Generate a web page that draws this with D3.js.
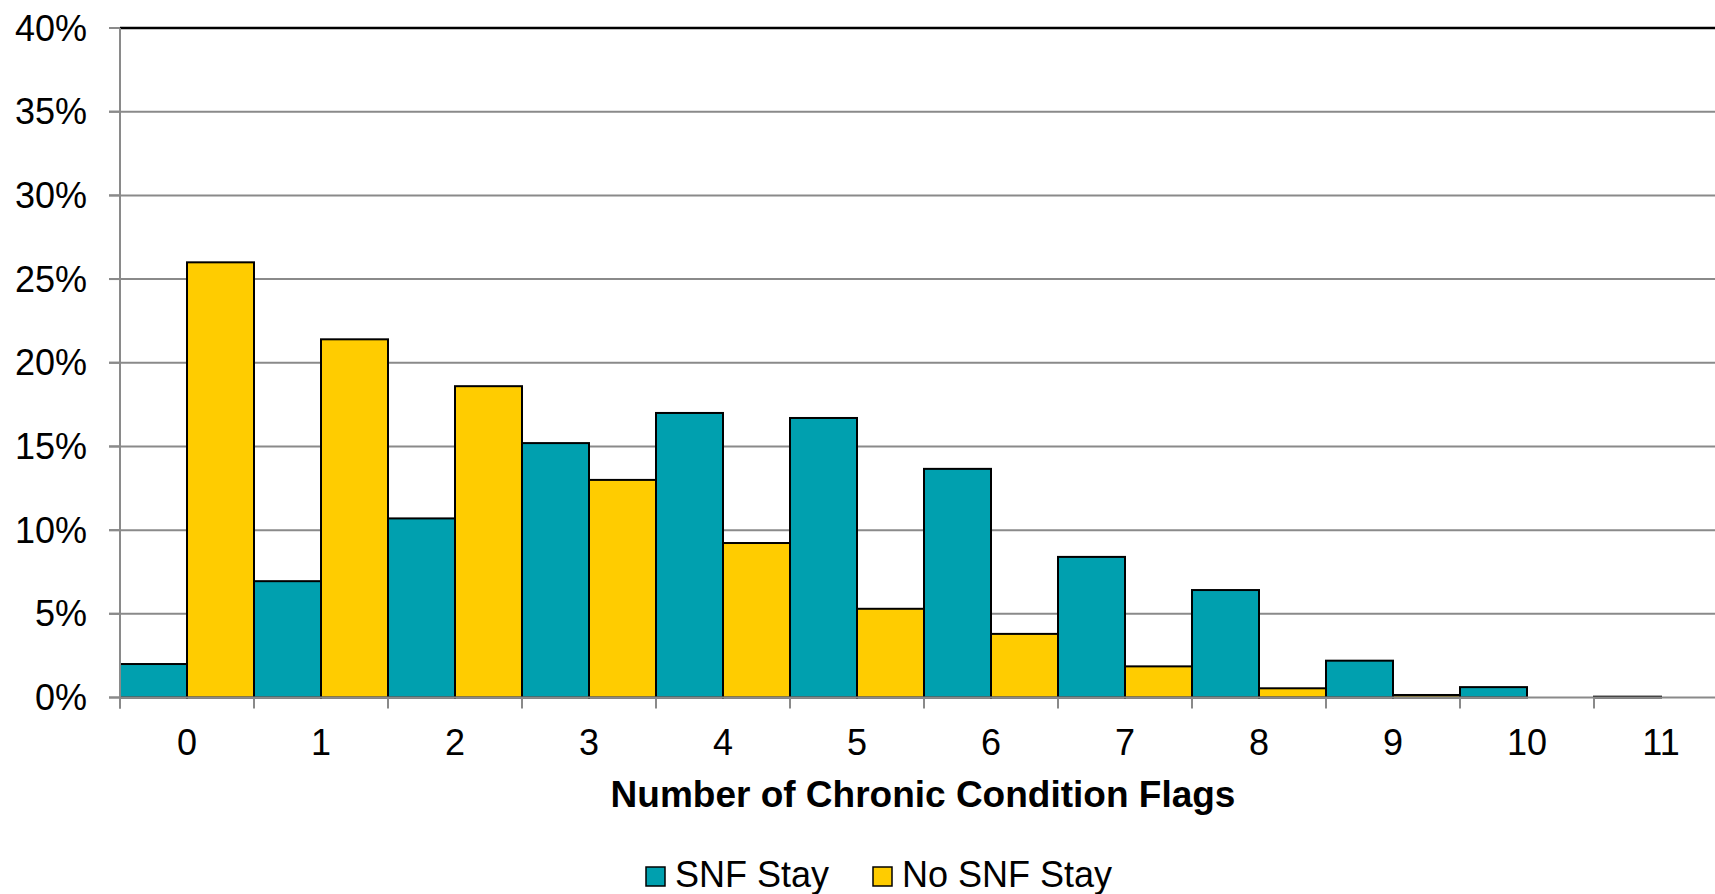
<!DOCTYPE html>
<html>
<head>
<meta charset="utf-8">
<script src="https://cdn.jsdelivr.net/npm/d3@7/dist/d3.min.js"></script>
<style>
  html, body { margin: 0; padding: 0; background: #fff; }
  svg { display: block; font-family: "Liberation Sans", Arial, sans-serif; }
</style>
</head>
<body>
<div id="chart"></div>
<script>
// chart data
const categories = ["0", "1", "2", "3", "4", "5", "6", "7", "8", "9", "10", "11"];
const seriesNames = ["SNF Stay", "No SNF Stay"];
const snfStay = [2.0, 6.95, 10.7, 15.2, 17.0, 16.7, 13.66, 8.4, 6.42, 2.2, 0.62, 0.05];
const noSnfStay = [26.0, 21.4, 18.6, 13.0, 9.23, 5.3, 3.8, 1.86, 0.55, 0.15, 0.0, 0.0];
const yTicks = [0, 5, 10, 15, 20, 25, 30, 35, 40];

const WIDTH = 1715;
const HEIGHT = 894;
const COLORS = ["#00A0AF", "#FFCC00"];

const svg = d3.select('#chart')
    .append('svg')
    .attr('width', WIDTH)
    .attr('height', HEIGHT)
    .style('overflow', 'hidden');

// plot area runs past the right edge, as in the original
const x = d3.scaleBand()
    .domain(categories)
    .range([120, 1728])
    .padding(0);

const xInner = d3.scaleBand()
    .domain(seriesNames)
    .range([0, x.bandwidth()])
    .padding(0);

const y = d3.scaleLinear()
    .domain([0, 40])
    .range([697.5, 28]);

// gridlines
svg.append('g')
    .selectAll('line')
    .data(yTicks.filter(d => d > 0 && d < 40))
    .join('line')
    .attr('x1', 109)
    .attr('x2', WIDTH)
    .attr('y1', d => y(d))
    .attr('y2', d => y(d))
    .attr('stroke', '#8a8a8a')
    .attr('stroke-width', 2);

// bars
const rows = categories.map((c, i) => ({ cat: c, values: [snfStay[i], noSnfStay[i]] }));

svg.append('g')
    .selectAll('g')
    .data(rows)
    .join('g')
    .attr('transform', d => `translate(${x(d.cat)},0)`)
    .selectAll('rect')
    .data(d => d.values.map((v, j) => ({ name: seriesNames[j], value: v, idx: j })))
    .join('rect')
    .filter(d => d.value > 0)
    .attr('x', d => xInner(d.name))
    .attr('width', xInner.bandwidth())
    .attr('y', d => y(d.value))
    .attr('height', d => y(0) - y(d.value))
    .attr('fill', d => COLORS[d.idx])
    .attr('stroke', '#000')
    .attr('stroke-width', 2);

// top border line (40%)
svg.append('line')
    .attr('x1', 109).attr('x2', 120)
    .attr('y1', y(40)).attr('y2', y(40))
    .attr('stroke', '#8a8a8a').attr('stroke-width', 2);
svg.append('line')
    .attr('x1', 120).attr('x2', WIDTH)
    .attr('y1', y(40)).attr('y2', y(40))
    .attr('stroke', '#000').attr('stroke-width', 2.5);

// y axis
const yAxis = svg.append('g').attr('class', 'y-axis');
yAxis.append('line')
    .attr('x1', 120).attr('x2', 120)
    .attr('y1', y(40)).attr('y2', y(0) + 11)
    .attr('stroke', '#8a8a8a').attr('stroke-width', 2);
yAxis.selectAll('line.tick')
    .data(yTicks.filter(d => d < 40))
    .join('line')
    .attr('class', 'tick')
    .attr('x1', 109).attr('x2', 120)
    .attr('y1', d => y(d)).attr('y2', d => y(d))
    .attr('stroke', '#8a8a8a').attr('stroke-width', 2);
yAxis.selectAll('text')
    .data(yTicks)
    .join('text')
    .attr('x', 87)
    .attr('y', d => y(d) + 12.5)
    .attr('text-anchor', 'end')
    .attr('font-size', 36)
    .attr('fill', '#000')
    .text(d => d + '%');

// x axis
const xAxis = svg.append('g').attr('class', 'x-axis');
xAxis.append('line')
    .attr('x1', 109).attr('x2', WIDTH)
    .attr('y1', y(0)).attr('y2', y(0))
    .attr('stroke', '#8a8a8a').attr('stroke-width', 2);
xAxis.selectAll('line.tick')
    .data(categories)
    .join('line')
    .attr('class', 'tick')
    .attr('x1', d => x(d)).attr('x2', d => x(d))
    .attr('y1', y(0)).attr('y2', y(0) + 11)
    .attr('stroke', '#8a8a8a').attr('stroke-width', 2);
xAxis.selectAll('text')
    .data(categories)
    .join('text')
    .attr('x', d => x(d) + x.bandwidth() / 2)
    .attr('y', 755)
    .attr('text-anchor', 'middle')
    .attr('font-size', 36)
    .attr('fill', '#000')
    .text(d => d);

// axis title
svg.append('text')
    .attr('x', 923)
    .attr('y', 807)
    .attr('text-anchor', 'middle')
    .attr('font-size', 37)
    .attr('font-weight', 'bold')
    .attr('fill', '#000')
    .text('Number of Chronic Condition Flags');

// legend
const legendItems = [
    { name: seriesNames[0], color: COLORS[0], sx: 646, tx: 675 },
    { name: seriesNames[1], color: COLORS[1], sx: 873, tx: 902 }
];
const legend = svg.append('g').attr('class', 'legend');
legend.selectAll('rect')
    .data(legendItems)
    .join('rect')
    .attr('x', d => d.sx)
    .attr('y', 867)
    .attr('width', 19)
    .attr('height', 19)
    .attr('fill', d => d.color)
    .attr('stroke', '#000')
    .attr('stroke-width', 1.5);
legend.selectAll('text')
    .data(legendItems)
    .join('text')
    .attr('x', d => d.tx)
    .attr('y', 887)
    .attr('font-size', 36)
    .attr('fill', '#000')
    .text(d => d.name);
</script>
</body>
</html>
